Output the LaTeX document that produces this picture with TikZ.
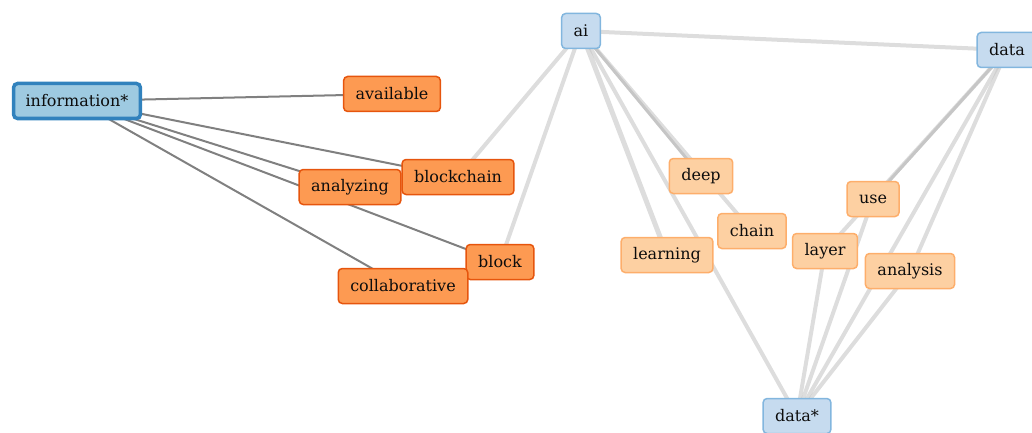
\documentclass[tikz,border=0pt]{standalone}
\usepackage{fontspec}
\setmainfont{DejaVu Serif}
\usetikzlibrary{backgrounds}

\definecolor{infofill}{HTML}{9ECAE1}
\definecolor{infodraw}{HTML}{3182BD}
\definecolor{termfill}{HTML}{C6DBEF}
\definecolor{termdraw}{HTML}{82B6DE}
\definecolor{hotfill}{HTML}{FD9A52}
\definecolor{hotdraw}{HTML}{E6550D}
\definecolor{warmfill}{HTML}{FDD0A2}
\definecolor{warmdraw}{HTML}{FDAE6B}

\begin{document}
\begin{tikzpicture}[x=1pt, y=-1pt, font=\fontsize{16}{19}\selectfont, text=black!95]

\tikzset{
  box/.style={rounded corners=4pt, minimum height=35pt, inner xsep=12pt, inner ysep=2pt, line width=1.5pt},
  seed/.style={box, fill=infofill, draw=infodraw, line width=3.5pt},
  term/.style={box, fill=termfill, draw=termdraw},
  hot/.style={box, fill=hotfill, draw=hotdraw},
  warm/.style={box, fill=warmfill, draw=warmdraw},
  darklink/.style={draw=black!50, line width=2pt},
  lightlink/.style={draw=black!22, draw opacity=0.6, line width=4pt},
  midlink/.style={draw=black!30, draw opacity=0.75, line width=3pt}
}

\useasboundingbox (0,0) rectangle (1032,433);

% --- Nós ---

% Termo de busca e vizinhos diretos
\node[seed] (info) at (77,101) {information*};
\node[hot] (avail) at (392,94) {available};
\node[hot] (bchain) at (458,177) {blockchain};
\node[hot] (analyz) at (350,187) {analyzing};
\node[hot] (block) at (500,262) {block};
\node[hot] (collab) at (403,286) {collaborative};

% Termos ai / data
\node[term] (ai) at (581,31) {ai};
\node[term] (data) at (1007,50) {data};
\node[term] (dataS) at (797,416) {data*};

% Termos associados
\node[warm] (deep) at (701,176) {deep};
\node[warm] (chain) at (752,231) {chain};
\node[warm] (learn) at (667,255) {learning};
\node[warm] (layer) at (825,251) {layer};
\node[warm] (use) at (873,199) {use};
\node[warm] (anlys) at (910,271) {analysis};

% --- Arestas ---
\begin{pgfonlayer}{background}
% information* -> vizinhos
\draw[darklink] (info.center) -- (avail.center);
\draw[darklink] (info.center) -- (bchain.center);
\draw[darklink] (info.center) -- (analyz.center);
\draw[darklink] (info.center) -- (block.center);
\draw[darklink] (info.center) -- (collab.center);

% ai -> termos
\draw[lightlink] (ai.center) -- (bchain.center);
\draw[lightlink] (ai.center) -- (block.center);
\draw[lightlink] (ai.center) -- (data.center);
\draw[midlink] (ai.center) -- (deep.center);
\draw[lightlink] (ai.center) -- (chain.center);
\draw[lightlink, line width=5pt] (ai.center) -- (learn.center);
\draw[lightlink] (ai.center) -- (dataS.center);

% data -> termos
\draw[midlink] (data.center) -- (use.center);
\draw[lightlink] (data.center) -- (layer.center);
\draw[lightlink] (data.center) -- (anlys.center);
\draw[lightlink] (data.center) -- (dataS.center);

% data* -> termos
\draw[lightlink] (dataS.center) -- (layer.center);
\draw[lightlink] (dataS.center) -- (use.center);
\draw[lightlink] (dataS.center) -- (anlys.center);
\end{pgfonlayer}

\end{tikzpicture}
\end{document}
